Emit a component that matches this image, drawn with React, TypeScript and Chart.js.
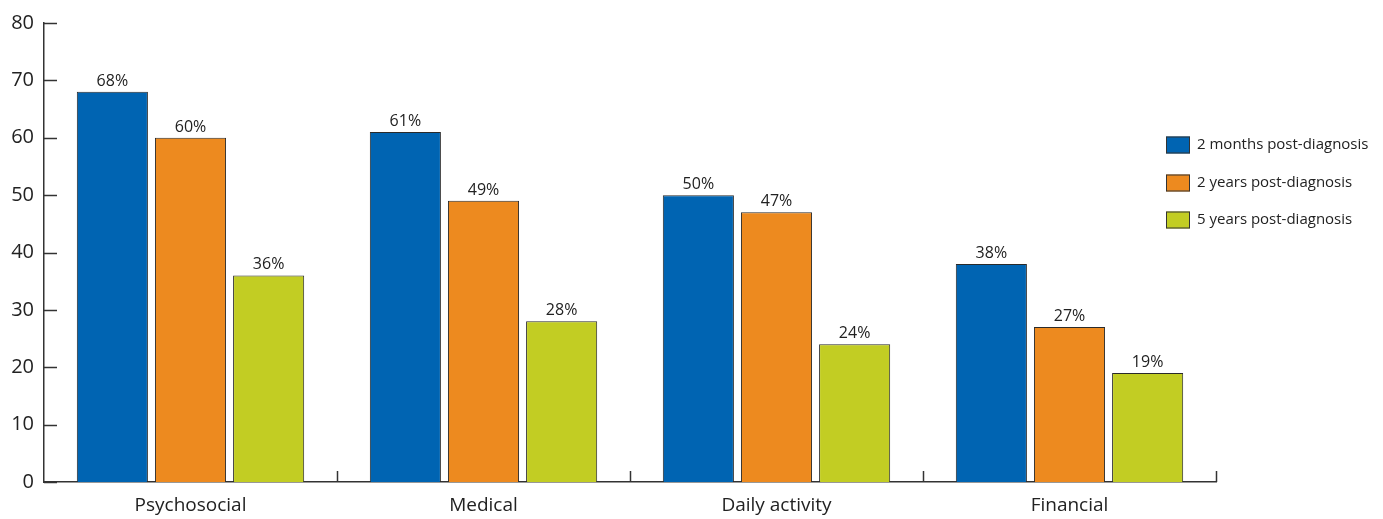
import React, { useEffect, useRef } from "react";
import { Chart, registerables } from "chart.js";

Chart.register(...registerables);

const categories = ["Psychosocial", "Medical", "Daily activity", "Financial"];
const seriesLabels = ["2 months post-diagnosis", "2 years post-diagnosis", "5 years post-diagnosis"];
const months2 = [68, 61, 50, 38];
const years2 = [60, 49, 47, 27];
const years5 = [36, 28, 24, 19];
const colors = ["#0064B2", "#ED8A1F", "#C2CD23"];
const yTicks = [0, 10, 20, 30, 40, 50, 60, 70, 80];

const FONT = "'Open Sans', 'Noto Sans', sans-serif";
const AXIS = "#333333";

const overlay = {
  id: "overlay",
  afterDraw(chart: any) {
    const ctx = chart.ctx;
    const x = chart.scales.x;
    const y = chart.scales.y;
    const area = chart.chartArea;
    ctx.save();
    ctx.strokeStyle = AXIS;
    ctx.lineWidth = 1.5;
    // y ticks (inward)
    yTicks.forEach((v) => {
      const py = Math.round(y.getPixelForValue(v)) + 0.5;
      ctx.beginPath();
      ctx.moveTo(area.left, py);
      ctx.lineTo(area.left + 13, py);
      ctx.stroke();
    });
    // x ticks at category boundaries (upward)
    const n = categories.length;
    for (let i = 0; i < n; i++) {
      const c = x.getPixelForValue(i);
      const next = i < n - 1 ? x.getPixelForValue(i + 1) : c + (c - x.getPixelForValue(i - 1));
      const b = Math.round((c + next) / 2) + 0.5;
      ctx.beginPath();
      ctx.moveTo(b, area.bottom);
      ctx.lineTo(b, area.bottom - 11);
      ctx.stroke();
    }
    // data labels
    ctx.fillStyle = "#222";
    ctx.font = `16px ${FONT}`;
    ctx.textAlign = "center";
    ctx.textBaseline = "alphabetic";
    chart.data.datasets.forEach((ds: any, di: number) => {
      const meta = chart.getDatasetMeta(di);
      meta.data.forEach((bar: any, i: number) => {
        ctx.fillText(ds.data[i] + "%", bar.x, bar.y - 6);
      });
    });
    // legend
    ctx.textAlign = "left";
    ctx.textBaseline = "middle";
    ctx.font = `15px ${FONT}`;
    const lx = 1158;
    const rows = [137, 175, 212];
    chart.data.datasets.forEach((ds: any, di: number) => {
      const cy = rows[di];
      ctx.fillStyle = ds.backgroundColor;
      ctx.fillRect(lx, cy - 8.5, 24, 17);
      ctx.strokeStyle = "#333";
      ctx.lineWidth = 1;
      ctx.strokeRect(lx + 0.5, cy - 8, 23, 16);
      ctx.fillStyle = "#222";
      ctx.fillText(ds.label, lx + 31, cy);
    });
    ctx.restore();
  },
};

export default function App() {
  const ref = useRef<HTMLCanvasElement>(null);
  useEffect(() => {
    const seriesData = [months2, years2, years5];
    const chart = new Chart(ref.current!, {
      type: "bar",
      data: {
        labels: categories,
        datasets: seriesLabels.map((label, i) => ({
          label,
          data: seriesData[i],
          backgroundColor: colors[i],
          borderColor: "#2a2a2a",
          borderWidth: 1,
          categoryPercentage: 0.8,
          barPercentage: 0.91,
        })),
      },
      options: {
        animation: false,
        responsive: true,
        maintainAspectRatio: false,
        layout: { padding: { top: 15, right: 159, left: 0, bottom: 0 } },
        plugins: { legend: { display: false }, tooltip: { enabled: false } },
        scales: {
          x: {
            grid: { display: false, drawTicks: false },
            border: { display: true, color: AXIS, width: 1.5 },
            ticks: { color: "#222", font: { family: FONT, size: 19 }, padding: 12 },
            afterFit: (s: any) => {
              s.height = 37;
              s.paddingLeft = 0;
              s.paddingRight = 0;
            },
          },
          y: {
            min: 0,
            max: 80,
            grid: { display: false, drawTicks: false },
            border: { display: true, color: AXIS, width: 1.5 },
            ticks: {
              stepSize: 10,
              color: "#222",
              font: { family: FONT, size: 20 },
              padding: 10,
            },
            afterFit: (s: any) => {
              s.width = 36;
              s.paddingTop = 0;
              s.paddingBottom = 0;
            },
          },
        },
      },
      plugins: [overlay],
    });
    return () => chart.destroy();
  }, []);
  return (
    <div style={{ width: "1367px", height: "511px", position: "relative" }}>
      <canvas ref={ref} />
    </div>
  );
}
